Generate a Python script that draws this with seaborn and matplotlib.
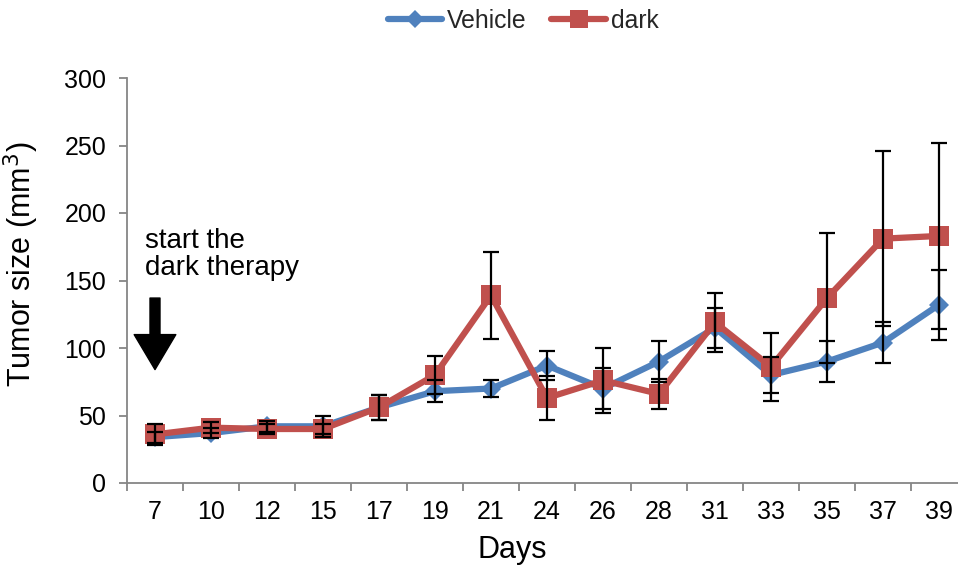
import numpy as np
import pandas as pd
import matplotlib
matplotlib.use("Agg")
import matplotlib.pyplot as plt
import seaborn as sns
from matplotlib.ticker import FixedLocator

days = ["7", "10", "12", "15", "17", "19", "21", "24", "26", "28", "31", "33", "35", "37", "39"]
vehicle = [34, 37, 42, 42, 56, 68, 70, 87, 70, 90, 115, 80, 90, 104, 132]
vehicle_err = [4, 4, 4, 8, 9, 8, 6, 11, 15, 15, 15, 13, 15, 15, 26]
dark = [36, 41, 40, 40, 56, 80, 139, 63, 76, 66, 119, 86, 137, 181, 183]
dark_err = [8, 4, 4, 4, 9, 14, 32, 16, 24, 11, 22, 25, 48, 65, 69]
series_names = ["Vehicle", "dark"]
colors = {"Vehicle": "#4F81BD", "dark": "#C0504D"}

sns.set_theme(style="white")
plt.rcParams["font.family"] = ["Liberation Sans", "DejaVu Sans"]

df = pd.DataFrame({
    "Days": days * 2,
    "pos": list(range(len(days))) * 2,
    "size": vehicle + dark,
    "group": ["Vehicle"] * len(days) + ["dark"] * len(days),
})

fig = plt.figure(figsize=(9.58, 5.67), dpi=100)
ax = fig.add_axes([127 / 958, (567 - 483) / 567, 840 / 958, 405 / 567])

sns.lineplot(data=df, x="pos", y="size", hue="group", style="group",
             markers={"Vehicle": "D", "dark": "s"}, dashes=False,
             palette=colors, linewidth=4.5, markersize=14, markeredgewidth=0,
             ax=ax, legend=False, zorder=2)
for line in ax.get_lines():
    if line.get_marker() == "D":
        line.set_markersize(10)

pos = np.arange(len(days))
ax.errorbar(pos, vehicle, yerr=vehicle_err, fmt="none", ecolor="black",
            elinewidth=1.6, capsize=5.5, capthick=1.6, zorder=3)
ax.errorbar(pos, dark, yerr=dark_err, fmt="none", ecolor="black",
            elinewidth=1.6, capsize=5.5, capthick=1.6, zorder=3)

ax.set_xlim(-0.5, len(days) - 0.5)
ax.set_ylim(0, 300)
ax.set_yticks(np.arange(0, 301, 50))
ax.set_xticks(pos)
ax.set_xticklabels(days)
ax.xaxis.set_minor_locator(FixedLocator(np.arange(-0.5, len(days), 1.0)))
ax.tick_params(axis="x", which="major", length=0, labelsize=18, pad=12, colors="#000000")
ax.tick_params(axis="x", which="minor", length=6, width=1.3, color="#868686", direction="out", bottom=True)
ax.tick_params(axis="y", which="major", length=6, width=1.3, color="#868686", direction="out",
               labelsize=18, pad=9, left=True)
for lbl in ax.get_yticklabels():
    lbl.set_color("#000000")

for s in ["top", "right"]:
    ax.spines[s].set_visible(False)
for s in ["left", "bottom"]:
    ax.spines[s].set_color("#868686")
    ax.spines[s].set_linewidth(1.3)

ax.set_xlabel("Days", fontsize=22, color="black")
ax.set_ylabel("Tumor size (mm$^3$)", fontsize=22, color="black")
ax.xaxis.set_label_coords(0.459, -0.128)
ax.yaxis.set_label_coords(-0.102, 0.54)

ax.text(-0.18, 189, "start the\ndark therapy", fontsize=20, ha="left", va="top",
        linespacing=1.08, color="black")
ax.annotate("", xy=(0, 84), xytext=(0, 137),
            arrowprops=dict(arrowstyle="simple,head_length=1.26,head_width=1.5,tail_width=0.36",
                            color="black", shrinkA=0, shrinkB=0, mutation_scale=20))

handles = [
    plt.Line2D([], [], color=colors["Vehicle"], marker="D", markersize=9, linewidth=4.5,
               markeredgewidth=0),
    plt.Line2D([], [], color=colors["dark"], marker="s", markersize=13, linewidth=4.5,
               markeredgewidth=0),
]
fig.legend(handles, series_names, loc="center", bbox_to_anchor=(0.546, 1 - 21 / 567),
           ncol=2, frameon=False, fontsize=17.8, handlelength=2.2, columnspacing=1.0,
           handletextpad=0.2, borderpad=0, borderaxespad=0)

fig.savefig("out.png", dpi=100)
